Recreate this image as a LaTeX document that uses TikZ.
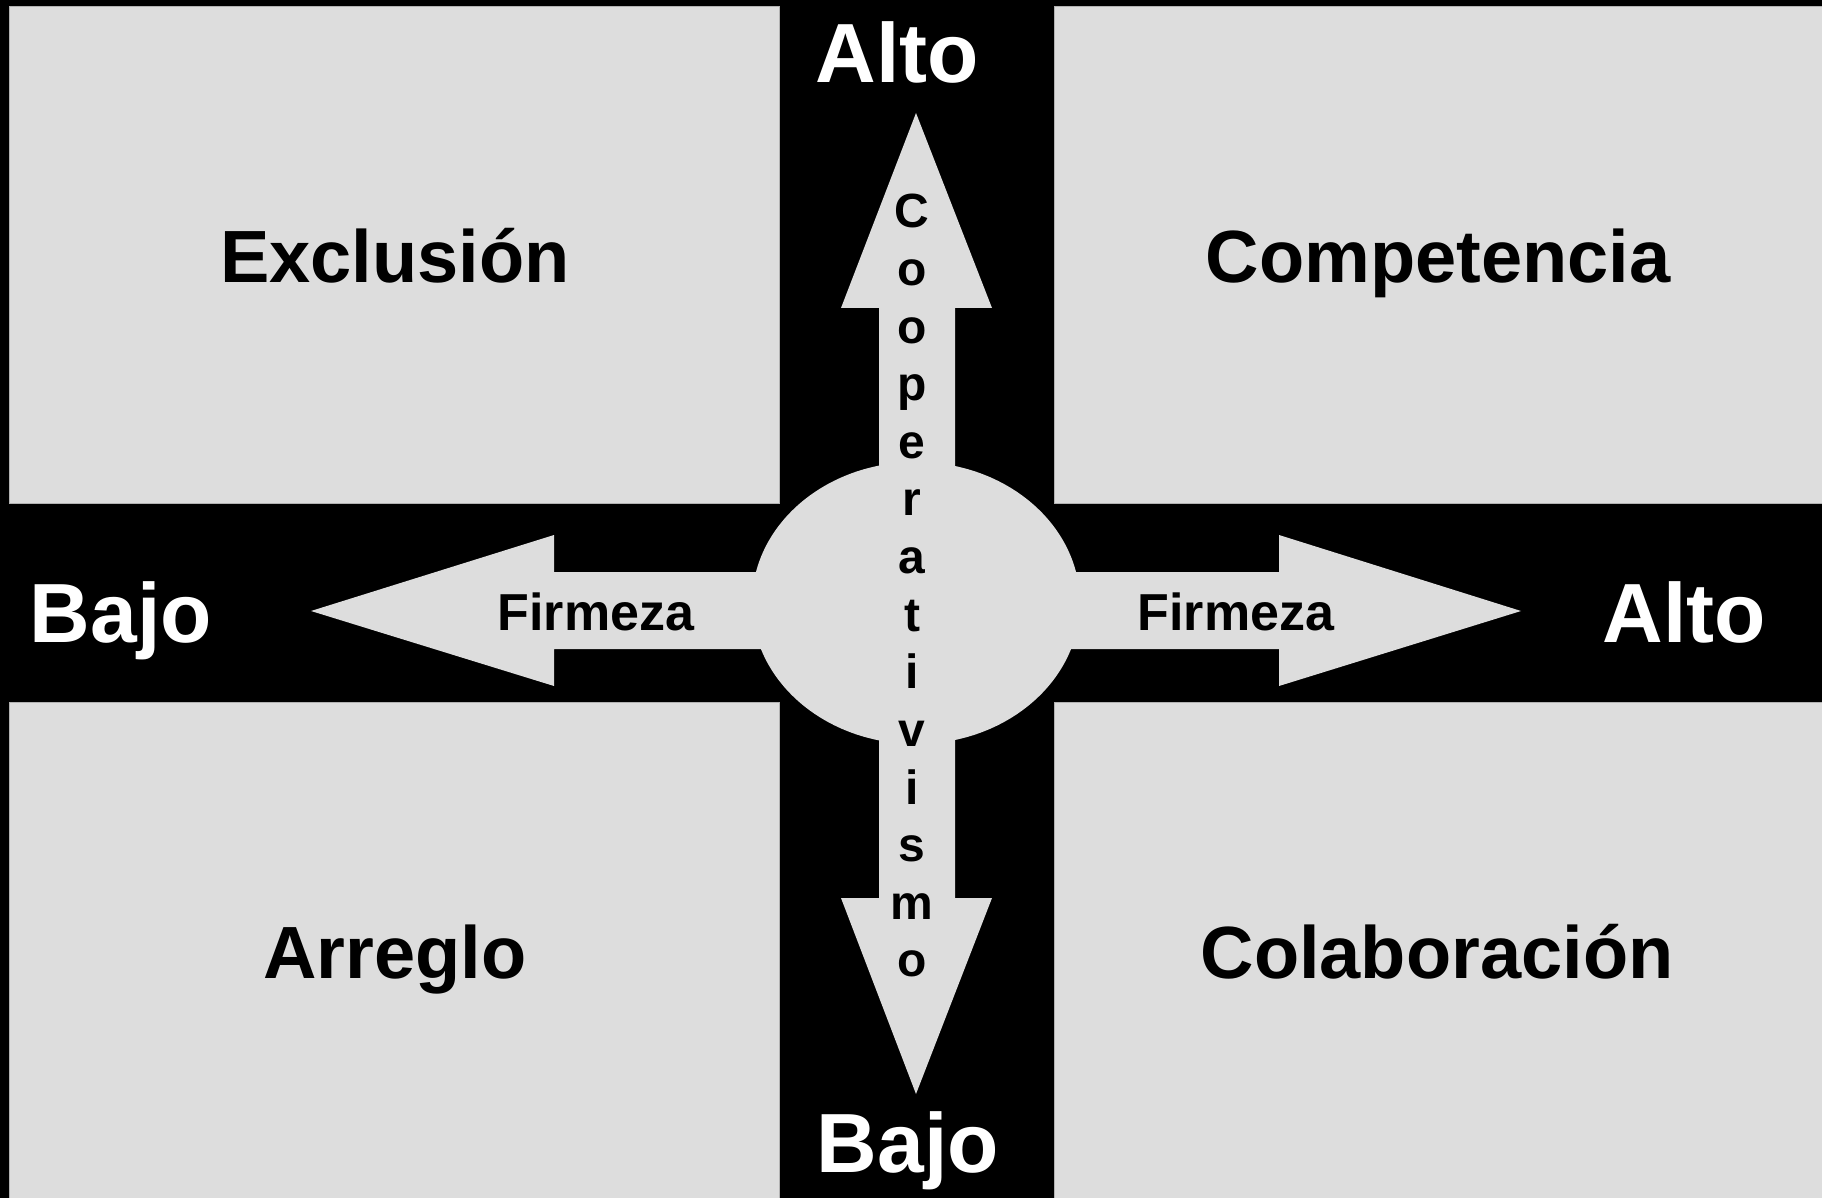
\documentclass[tikz,border=0pt]{standalone}
\usepackage{fontspec}
\setmainfont{Liberation Sans}
\definecolor{boxgray}{HTML}{DDDDDD}
\begin{document}
\begin{tikzpicture}[x=0.5pt,y=-0.5pt,
  quad/.style={fill=boxgray, draw=gray!60, line width=0.4pt},
  arrowshape/.style={fill=boxgray},
  axislabel/.style={text=white, font=\fontsize{42}{50}\selectfont\bfseries, anchor=base, inner sep=0pt},
  quadlabel/.style={text=black, font=\fontsize{37}{44}\selectfont\bfseries, anchor=base, inner sep=0pt},
  firm/.style={text=black, font=\fontsize{26}{31}\selectfont\bfseries, anchor=base, inner sep=0pt},
  vletter/.style={text=black, font=\fontsize{24}{28}\selectfont\bfseries, anchor=base, inner sep=0pt}]
\fill[black] (0,0) rectangle (1822,1198);
\useasboundingbox (0,0) rectangle (1822,1198);
% quadrants
\path[quad] (9,6) rectangle (779,503);
\path[quad] (1054,6) rectangle (1830,503);
\path[quad] (9,702) rectangle (779,1210);
\path[quad] (1054,702) rectangle (1830,1210);
% arrows
\path[arrowshape] (879,640) -- (879,308) -- (841,308) -- (916,113) -- (992,308) -- (955,308) -- (955,640) -- cycle;
\path[arrowshape] (879,570) -- (879,898) -- (841,898) -- (916,1094) -- (992,898) -- (955,898) -- (955,570) -- cycle;
\path[arrowshape] (880,572) -- (554,572) -- (554,535) -- (311,611) -- (554,686) -- (554,649) -- (880,649) -- cycle;
\path[arrowshape] (950,572) -- (1279,572) -- (1279,535) -- (1521,611) -- (1279,686) -- (1279,649) -- (950,649) -- cycle;
\path[arrowshape] (916,603) ellipse [x radius=164, y radius=141];
% axis labels
\node[axislabel] (altotop) at (897,83) {Alto};
\node[axislabel] (bajobottom) at (908,1172) {Bajo};
\node[axislabel] (bajoleft) at (121,642) {Bajo};
\node[axislabel] (altoright) at (1684,642) {Alto};
% firmeza
\node[firm] (firmleft) at (596,630) {Firmeza};
\node[firm] (firmright) at (1236,630) {Firmeza};
% quadrant labels
\node[quadlabel] (excl) at (395,283) {Exclusión};
\node[quadlabel] (comp) at (1438,283) {Competencia};
\node[quadlabel] (arre) at (395,978) {Arreglo};
\node[quadlabel] (cola) at (1437,978) {Colaboración};
% vertical word
\foreach \l [count=\i from 0] in {C,o,o,p,e,r,a,t,i,v,i,s,m,o}
  \node[vletter] (v\i) at (912,{228+57.6*\i}) {\l};
\end{tikzpicture}
\end{document}
